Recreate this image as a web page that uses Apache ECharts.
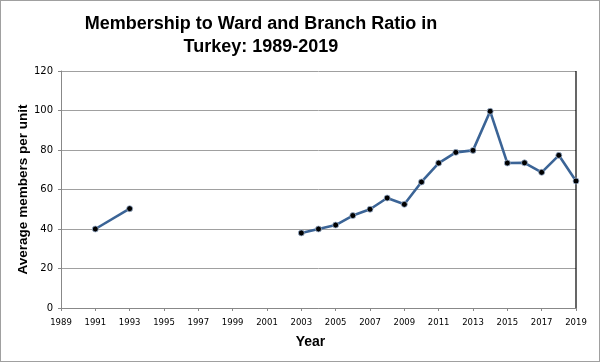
<!DOCTYPE html>
<html>
<head>
<meta charset="utf-8">
<script src="https://cdn.jsdelivr.net/npm/echarts@6/dist/echarts.min.js"></script>
<style>
html,body{margin:0;padding:0;background:#fff;}
#wrap{width:598px;height:360px;border:1px solid #a0a0a0;position:relative;}
#chart{width:598px;height:360px;}
</style>
</head>
<body>
<div id="wrap"><div id="chart"></div></div>
<script>
var titleLines = ['Membership to Ward and Branch Ratio in', 'Turkey: 1989-2019'];
var yAxisName = 'Average members per unit';
var xAxisName = 'Year';
var yearsA = [1991, 1993];
var valuesA = [40, 50.3];
var yearsB = [2003, 2004, 2005, 2006, 2007, 2008, 2009, 2010, 2011, 2012, 2013, 2014, 2015, 2016, 2017, 2018, 2019];
var valuesB = [38.0, 40.0, 42.0, 46.8, 50.0, 55.7, 52.5, 63.8, 73.4, 78.8, 79.8, 99.6, 73.4, 73.5, 68.7, 77.3, 64.3];
var xMin = 1989, xMax = 2019, xStep = 2;
var yMin = 0, yMax = 120, yStep = 20;

function pairs(xs, ys){ return xs.map(function(x,i){ return [x, ys[i]]; }); }

var chart = echarts.init(document.getElementById('chart'), null, {renderer:'canvas'});
var lineStyle = {color:'#3b6496', width:2.6};
var itemStyle = {color:'#000000', borderColor:'#9fb6d4', borderWidth:0.8};
chart.setOption({
  animation:false,
  title:{
    text: titleLines.join('\n'),
    left: 255, top: 7, textAlign:'center',
    textStyle:{fontFamily:'Liberation Sans, Arial, sans-serif', fontWeight:'bold', fontSize:18, color:'#000', lineHeight:23}
  },
  grid:{left:60, right:23, top:70, bottom:53, show:false, containLabel:false},
  xAxis:{
    type:'value', min:xMin, max:xMax, interval:xStep,
    name:xAxisName, nameLocation:'middle', nameGap:27,
    nameTextStyle:{fontFamily:'Liberation Sans, Arial, sans-serif', fontWeight:'bold', fontSize:14, color:'#000', padding:[0,16,0,0]},
    axisLine:{show:true, lineStyle:{color:'#888', width:1}},
    axisTick:{show:true, inside:false, length:3, lineStyle:{color:'#888'}},
    axisLabel:{fontFamily:'DejaVu Sans, sans-serif', fontSize:8.5, color:'#000', margin:10, showMinLabel:true, showMaxLabel:true, formatter:function(v){return String(v);}},
    splitLine:{show:false}
  },
  yAxis:{
    type:'value', min:yMin, max:yMax, interval:yStep,
    name:yAxisName, nameLocation:'middle', nameGap:31, nameRotate:90, nameMoveOverlap:false,
    nameTextStyle:{fontFamily:'Liberation Sans, Arial, sans-serif', fontWeight:'bold', fontSize:13.5, color:'#000'},
    axisLine:{show:true, lineStyle:{color:'#888', width:1}},
    axisTick:{show:true, inside:false, length:3, lineStyle:{color:'#888'}},
    axisLabel:{fontFamily:'DejaVu Sans, sans-serif', fontSize:10, color:'#000', margin:8},
    splitLine:{show:true, lineStyle:{color:'#a0a0a0', width:1}}
  },
  series:[
    {type:'line', data:pairs(yearsA, valuesA), symbol:'circle', symbolSize:6, lineStyle:lineStyle, itemStyle:itemStyle, z:3},
    {type:'line', data:pairs(yearsB, valuesB), symbol:'circle', symbolSize:6, lineStyle:lineStyle, itemStyle:itemStyle, z:3},
    {type:'line', data:[[xMax, yMin],[xMax, yMax]], symbol:'none', lineStyle:{color:'#000', width:1.2}, silent:true, z:2}
  ]
});
</script>
</body>
</html>
